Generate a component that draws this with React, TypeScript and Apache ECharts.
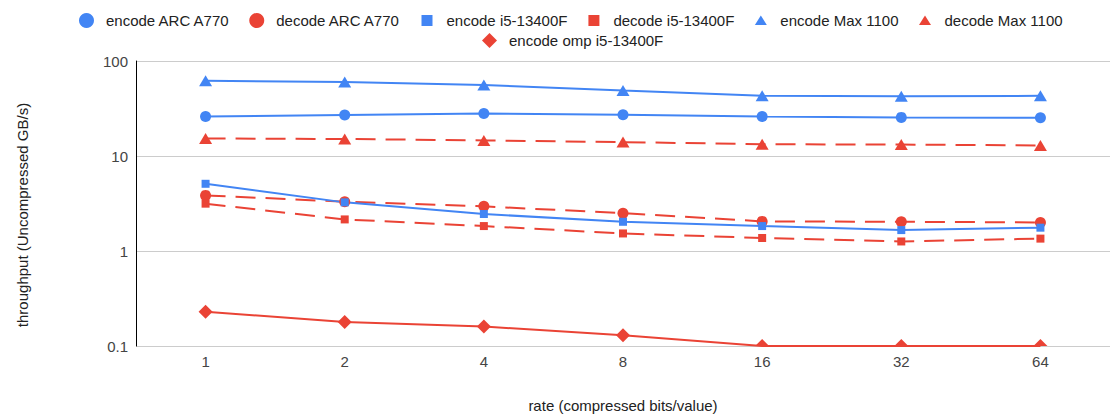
import { useEffect, useRef } from 'react';
import * as echarts from 'echarts';

const rates = ['1', '2', '4', '8', '16', '32', '64'];
const encodeArcA770 = [26, 27, 28, 27.2, 26, 25.5, 25.3];
const decodeArcA770 = [3.85, 3.3, 2.95, 2.5, 2.05, 2.03, 2.0];
const encodeI5 = [5.1, 3.25, 2.45, 2.03, 1.83, 1.66, 1.76];
const decodeI5 = [3.15, 2.15, 1.83, 1.53, 1.37, 1.26, 1.35];
const encodeMax1100 = [62, 60, 56, 49, 43, 42.5, 43];
const decodeMax1100 = [15.3, 15.1, 14.6, 14, 13.3, 13.2, 12.9];
const encodeOmpI5 = [0.229, 0.179, 0.16, 0.13, 0.1, 0.1, 0.1];

const yMin = 0.1;
const yMax = 100;

const BLUE = '#4285F4';
const RED = '#EA4335';
const FONT = '"Liberation Sans", Arial, sans-serif';

const names = [
  'encode ARC A770',
  'decode ARC A770',
  'encode i5-13400F',
  'decode i5-13400F',
  'encode Max 1100',
  'decode Max 1100',
  'encode omp i5-13400F',
];

const SQUARE_ICON = 'path://M0 0M15 15M2 2H13V13H2Z';
const TRI_ICON = 'path://M0 0M15 15M1.5 12H13.5L7.5 2.5Z';

export default function App() {
  const ref = useRef<HTMLDivElement>(null);
  useEffect(() => {
    const chart = echarts.init(ref.current!, null, { renderer: 'svg' });
    const dashed = [20, 10];
    const mk = (
      name: string,
      data: any[],
      color: string,
      symbol: string,
      symbolSize: any,
      dash: boolean,
    ) => ({
      name,
      type: 'line',
      data,
      symbol,
      symbolSize,
      showSymbol: true,
      color,
      itemStyle: { color },
      lineStyle: { color, width: 2, type: dash ? dashed : 'solid' },
      emphasis: { disabled: true },
    });
    const ompData = encodeOmpI5.map((v) =>
      v <= yMin
        ? { value: yMin, symbol: 'triangle', symbolSize: [14, 7], symbolOffset: [0, -3.5] }
        : v,
    );
    const legendCommon = {
      orient: 'horizontal',
      itemWidth: 15,
      itemHeight: 15,
      itemGap: 19,
      selectedMode: false,
      textStyle: { fontSize: 15, color: '#222', fontFamily: FONT, padding: [0, 0, 0, 7] },
    };
    chart.setOption({
      animation: false,
      textStyle: { fontFamily: FONT },
      legend: [
        {
          ...legendCommon,
          left: 74,
          top: 8,
          data: [
            { name: names[0], icon: 'circle' },
            { name: names[1], icon: 'circle' },
            { name: names[2], icon: SQUARE_ICON },
            { name: names[3], icon: SQUARE_ICON },
            { name: names[4], icon: TRI_ICON },
            { name: names[5], icon: TRI_ICON },
          ],
        },
        {
          ...legendCommon,
          left: 477,
          top: 28,
          data: [{ name: names[6], icon: 'diamond' }],
        },
      ],
      grid: { left: 136, right: -8, top: 61, bottom: 71, containLabel: false },
      xAxis: {
        type: 'category',
        data: rates,
        boundaryGap: true,
        axisLine: { show: false },
        axisTick: { show: false },
        axisLabel: { fontSize: 15, color: '#444', margin: 8, fontFamily: FONT },
        splitLine: { show: false },
        name: 'rate (compressed bits/value)',
        nameLocation: 'middle',
        nameGap: 52,
        nameTextStyle: { fontSize: 15, color: '#222', fontFamily: FONT },
      },
      yAxis: {
        type: 'log',
        logBase: 10,
        min: yMin,
        max: yMax,
        axisLine: { show: true, lineStyle: { color: '#000', width: 1 } },
        axisTick: { show: false },
        axisLabel: {
          fontSize: 15,
          color: '#444',
          margin: 8,
          fontFamily: FONT,
          showMinLabel: true,
          showMaxLabel: true,
          formatter: (v: number) => String(Number(v.toPrecision(3))),
        },
        splitLine: { show: true, lineStyle: { color: '#ccc', width: 1 } },
      },
      graphic: [
        {
          type: 'text',
          x: 22,
          y: 215,
          rotation: Math.PI / 2,
          style: {
            text: 'throughput (Uncompressed GB/s)',
            fontSize: 15,
            fontFamily: FONT,
            fill: '#222',
            textAlign: 'center',
            textVerticalAlign: 'middle',
          },
        },
      ],
      series: [
        mk(names[0], encodeArcA770, BLUE, 'circle', 11, false),
        mk(names[1], decodeArcA770, RED, 'circle', 11, true),
        mk(names[2], encodeI5, BLUE, 'rect', 8, false),
        mk(names[3], decodeI5, RED, 'rect', 8, true),
        mk(names[4], encodeMax1100, BLUE, 'triangle', [13, 11], false),
        mk(names[5], decodeMax1100, RED, 'triangle', [13, 11], true),
        mk(names[6], ompData, RED, 'diamond', 14, false),
      ],
    });
    return () => chart.dispose();
  }, []);
  return (
    <div
      ref={ref}
      style={{ position: 'absolute', left: 0, top: 0, width: 1110, height: 418 }}
    />
  );
}
